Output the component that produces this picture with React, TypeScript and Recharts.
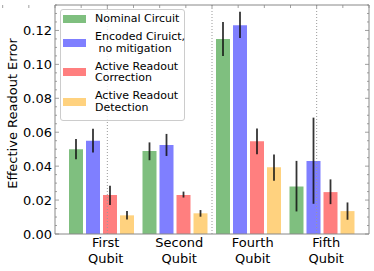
import { Bar, BarChart, ErrorBar, Legend, ReferenceLine, XAxis, YAxis } from "recharts";

const qubits = ["First Qubit", "Second Qubit", "Fourth Qubit", "Fifth Qubit"];

const nominal = [0.05, 0.049, 0.115, 0.028];
const nominalLow = [0.044, 0.0435, 0.105, 0.0133];
const nominalHigh = [0.056, 0.054, 0.125, 0.0431];

const encoded = [0.055, 0.0525, 0.123, 0.043];
const encodedLow = [0.048, 0.046, 0.1155, 0.0178];
const encodedHigh = [0.062, 0.059, 0.131, 0.0686];

const correction = [0.023, 0.023, 0.0547, 0.0247];
const correctionLow = [0.0171, 0.0215, 0.047, 0.0176];
const correctionHigh = [0.0284, 0.025, 0.0622, 0.0322];

const detection = [0.011, 0.0122, 0.0394, 0.0135];
const detectionLow = [0.0086, 0.0102, 0.0314, 0.0084];
const detectionHigh = [0.0135, 0.0141, 0.0469, 0.0186];

const yTicks = [
  0, 0.005, 0.01, 0.015, 0.02, 0.025, 0.03, 0.035, 0.04, 0.045, 0.05, 0.055, 0.06, 0.065,
  0.07, 0.075, 0.08, 0.085, 0.09, 0.095, 0.1, 0.105, 0.11, 0.115, 0.12, 0.125, 0.13, 0.135,
];
const topTicks = [-0.5, -0.25, 0, 0.25, 0.5, 0.75, 1, 1.25, 1.5, 1.75, 2, 2.25, 2.5, 2.75, 3, 3.25, 3.5];
const separators = [0.5, 1.5, 2.5];

const series = [
  { key: "nominal", name: "Nominal Circuit", color: "#7fbf7f", values: nominal, low: nominalLow, high: nominalHigh },
  { key: "encoded", name: "Encoded Ciruict,\n no mitigation", color: "#7f7fff", values: encoded, low: encodedLow, high: encodedHigh },
  { key: "correction", name: "Active Readout\nCorrection", color: "#ff7f7f", values: correction, low: correctionLow, high: correctionHigh },
  { key: "detection", name: "Active Readout\nDetection", color: "#ffd27f", values: detection, low: detectionLow, high: detectionHigh },
];

const data = qubits.map((q, i) => {
  const row: Record<string, any> = { qubit: q };
  series.forEach((s) => {
    row[s.key] = s.values[i];
    row[s.key + "Err"] = [s.values[i] - s.low[i], s.high[i] - s.values[i]];
  });
  return row;
});

const FONT = "'DejaVu Sans', sans-serif";
const AXIS = "#888888";

const isMajor = (v: number) => Math.abs(v / 0.02 - Math.round(v / 0.02)) < 1e-6;

function LeftTick(props: any) {
  const { x, y, payload } = props;
  const v = payload.value;
  const major = isMajor(v);
  const ax = x + 3;
  return (
    <g>
      <line x1={ax} x2={ax + (major ? 4 : 2)} y1={y} y2={y} stroke={AXIS} strokeWidth={0.8} />
      {major && (
        <text x={x} y={y} dy={4.6} textAnchor="end" fontSize={13} fontFamily={FONT} fill="#000">
          {v.toFixed(2)}
        </text>
      )}
    </g>
  );
}

function RightTick(props: any) {
  const { x, y, payload } = props;
  const len = isMajor(payload.value) ? 4 : 2;
  return <line x1={x} x2={x - len} y1={y} y2={y} stroke={AXIS} strokeWidth={0.8} />;
}

function TopTick(props: any) {
  const { x, y } = props;
  return <line x1={x} x2={x} y1={y} y2={y + 3} stroke={AXIS} strokeWidth={0.8} />;
}

function QubitTick(props: any) {
  const { x, y, payload } = props;
  const [a, b] = String(payload.value).split(" ");
  const cx = x + 4;
  return (
    <text textAnchor="middle" fontSize={13} fontFamily={FONT} fill="#000">
      <tspan x={cx} y={y + 12.5}>{a}</tspan>
      <tspan x={cx} y={y + 28.5}>{b}</tspan>
    </text>
  );
}

// legend drawn in series order (recharts would sort it by name)
function LegendBox() {
  return (
    <div
      style={{
        border: "1px solid #cccccc",
        borderRadius: 3,
        background: "rgba(255,255,255,0.8)",
        padding: "3px 4px 0 2px",
        fontFamily: FONT,
        fontSize: 11,
        color: "#000",
      }}
    >
      {series.map((s) => (
        <div key={s.key} style={{ display: "flex", alignItems: "center", marginBottom: 6.5 }}>
          <span style={{ width: 23, height: 8, background: s.color, marginRight: 9, flex: "none" }} />
          <div style={{ lineHeight: "11.5px", whiteSpace: "pre" }}>{s.name}</div>
        </div>
      ))}
    </div>
  );
}

export default function App() {
  return (
    <div style={{ position: "absolute", left: 0, top: 0, width: 374, height: 271, background: "#fff" }}>
      <BarChart
        width={374}
        height={271}
        data={data}
        margin={{ top: 4, right: 4, bottom: 5, left: 8 }}
        barSize={14}
        barGap={3}
      >
        <XAxis
          dataKey="qubit"
          type="category"
          padding={{ left: 10, right: 10 }}
          height={32}
          stroke={AXIS}
          tickLine={false}
          tickSize={0}
          tickMargin={0}
          tick={<QubitTick />}
          interval={0}
        />
        <XAxis
          xAxisId="top"
          orientation="top"
          type="number"
          domain={[-0.636, 3.636]}
          allowDataOverflow
          ticks={topTicks}
          interval={0}
          height={1}
          stroke={AXIS}
          tickLine={false}
          tickSize={0}
          tickMargin={0}
          tick={<TopTick />}
        />
        <YAxis
          domain={[0, 0.135]}
          ticks={yTicks}
          interval={0}
          allowDataOverflow
          width={47}
          stroke={AXIS}
          tickLine={false}
          tickSize={0}
          tickMargin={3}
          tick={<LeftTick />}
          label={{
            value: "Effective Readout Error",
            angle: -90,
            position: "center",
            dx: -19.5,
            dy: -6,
            style: { fontSize: 13, fill: "#000", fontFamily: FONT },
          }}
        />
        <YAxis
          yAxisId="right"
          orientation="right"
          domain={[0, 0.135]}
          ticks={yTicks}
          interval={0}
          allowDataOverflow
          width={1}
          stroke={AXIS}
          tickLine={false}
          tickSize={0}
          tickMargin={0}
          tick={<RightTick />}
        />
        {separators.map((s) => (
          <ReferenceLine key={s} x={s} xAxisId="top" stroke="#999999" strokeDasharray="1 2" strokeWidth={1} />
        ))}
        <Legend
          layout="horizontal"
          verticalAlign="middle"
          width={125}
          wrapperStyle={{ top: 9, left: 60, width: 125 }}
          content={<LegendBox />}
        />
        {series.map((s) => (
          <Bar key={s.key} dataKey={s.key} name={s.name} fill={s.color} isAnimationActive={false}>
            <ErrorBar
              dataKey={s.key + "Err"}
              width={0}
              stroke="#111111"
              strokeOpacity={0.85}
              strokeWidth={1.8}
              isAnimationActive={false}
            />
          </Bar>
        ))}
      </BarChart>
    </div>
  );
}
